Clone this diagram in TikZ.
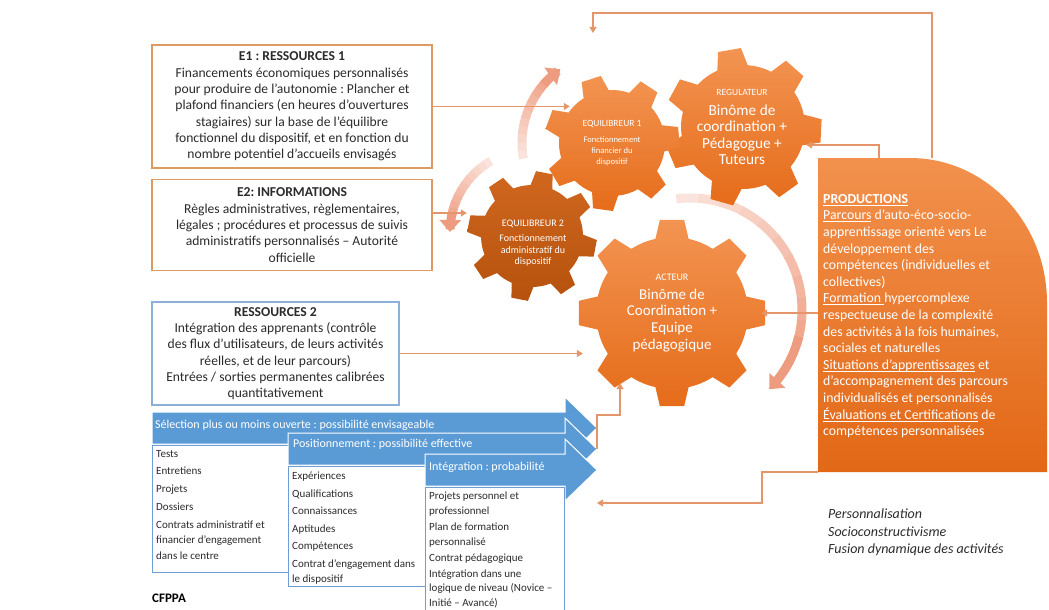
\documentclass[tikz,border=0pt]{standalone}
\usepackage{fontspec}
\setmainfont{Carlito}
\frenchspacing
\usetikzlibrary{arrows.meta,positioning,calc}
\definecolor{lineorange}{HTML}{E4956A}
\definecolor{boxorange}{HTML}{DD9A62}
\definecolor{boxblue}{HTML}{8DB0D8}
\definecolor{stepblue}{HTML}{5B9BD5}
\definecolor{listblue}{HTML}{6F9ED4}
\definecolor{geartop}{HTML}{F39452}
\definecolor{gearbot}{HTML}{E56C1A}
\definecolor{darktop}{HTML}{D0671F}
\definecolor{darkbot}{HTML}{B5520D}
\definecolor{prodtop}{HTML}{F2914D}
\definecolor{prodbot}{HTML}{E26816}
\definecolor{curvpink}{HTML}{EE9C80}
\definecolor{inkgrey}{HTML}{2B2B2B}

% underline at a fixed depth
\newsavebox\ulbox
\newcommand{\undl}[1]{\sbox\ulbox{#1}\rlap{\rule[-2.3pt]{\wd\ulbox}{0.7pt}}\usebox\ulbox}

% gear: center, teeth, root radius, tip radius, rotation, fill options
\newcommand{\drawgear}[6]{%
  \begin{scope}[shift={#1}]
    \shade[#6] ({#5-180/#2}:#3)
      \foreach \tk in {1,...,#2}{
        -- ({#5+(\tk-1.4)*360/#2}:#3) -- ({#5+(\tk-1.28)*360/#2}:#3)
        -- ({#5+(\tk-1.165)*360/#2}:#4) -- ({#5+(\tk-0.835)*360/#2}:#4)
        -- ({#5+(\tk-0.72)*360/#2}:#3) -- ({#5+(\tk-0.6)*360/#2}:#3)
        -- ({#5+(\tk-0.5)*360/#2}:#3)
      } -- cycle;
  \end{scope}}

% fading round arrow: center, radius, from, to
\newcommand{\fadearc}[4]{%
  \begin{scope}[shift={#1}]
    \foreach \k in {0,...,9}{
      \pgfmathsetmacro\arcA{#3+(#4-#3)*0.08*\k}
      \pgfmathsetmacro\arcB{#3+(#4-#3)*0.08*(\k+1.1)}
      \pgfmathsetmacro\arcC{28+60*\k/9}
      \draw[curvbody, curvpink!\arcC!white] plot[domain=\arcA:\arcB, samples=8] (\x:#2);
    }
    \pgfmathsetmacro\arcD{#3+(#4-#3)*0.78}
    \draw[curvbody, curvpink, -{Triangle[width=21pt,length=12pt]}]
      plot[domain=\arcD:#4, samples=8] (\x:#2);
  \end{scope}}

\begin{document}
\begin{tikzpicture}[x=1pt,y=-1pt,
  conn/.style={draw=lineorange, line width=1.1pt, -{Triangle[width=7pt,length=6pt]}},
  infobox/.style={draw=#1, line width=1.2pt, fill=white, align=center, text=inkgrey,
    inner sep=0pt, font=\fontsize{13.6}{16.3}\selectfont},
  gtext/.style={circle, inner sep=0pt, align=center, text=white},
  stepshape/.style={fill=stepblue, draw=white, line width=1pt},
  steplabel/.style={anchor=west, inner sep=0pt, text=white, font=\fontsize{12}{14}\selectfont},
  listbox/.style={draw=listblue, line width=1pt, fill=white, inner sep=0pt},
  listtext/.style={anchor=north west, inner sep=0pt, align=left, text=inkgrey},
  curvbody/.style={line width=9pt}]

\path[use as bounding box, clip] (0,0) rectangle (1049,610);

% round arrows behind the gears
\fadearc{(612,143)}{90}{170}{235}
\fadearc{(532,232)}{82}{240}{180}
\fadearc{(690,310)}{112}{263}{405}

% gears
\drawgear{(743,127)}{7}{62}{79}{260}{top color=geartop, bottom color=gearbot}
\drawgear{(612,143)}{7}{53}{68}{252}{top color=geartop, bottom color=gearbot}
\drawgear{(672,313)}{8}{76}{94}{270}{top color=geartop, bottom color=gearbot}
\drawgear{(532,236)}{8}{51}{65}{281}{top color=darktop, bottom color=darkbot}

\node[gtext, minimum size=84pt, font=\fontsize{8.5}{11}\selectfont] (eq1) at (612,143)
  {{\fontsize{9.5}{11}\selectfont EQUILIBREUR 1}\\[5pt]Fonctionnement\\financier du\\dispositif};
\node[gtext, minimum size=128pt, font=\fontsize{15.3}{16.5}\selectfont] (reg) at (742,127)
  {{\fontsize{9.5}{11}\selectfont REGULATEUR}\\[3pt]Binôme de\\coordination +\\Pédagogue +\\Tuteurs};
\node[gtext, minimum size=178pt, font=\fontsize{15}{16.8}\selectfont] (act) at (672,313)
  {{\fontsize{10}{12}\selectfont ACTEUR}\\[2pt]Binôme de\\Coordination +\\Equipe\\pédagogique};
\node[gtext, minimum size=132pt, font=\fontsize{10}{11.5}\selectfont] (eq2) at (533,243)
  {{\fontsize{10}{12}\selectfont EQUILIBREUR 2}\\[4pt]Fonctionnement\\administratif du\\dispositif};

% entry boxes
\node[infobox=boxorange, minimum width=280pt, minimum height=123pt] (e1) at (292,106.5)
  {\textbf{E1 : RESSOURCES 1}\\Financements économiques personnalisés\\pour produire de l’autonomie : Plancher et\\plafond financiers (en heures d’ouvertures\\stagiaires) sur la base de l’équilibre\\fonctionnel du dispositif, et en fonction du\\nombre potentiel d’accueils envisagés};
\node[infobox=boxorange, minimum width=280pt, minimum height=91pt] (e2) at (292,225)
  {\textbf{E2: INFORMATIONS}\\Règles administratives, règlementaires,\\légales ; procédures et processus de suivis\\administratifs personnalisés – Autorité\\officielle};
\node[infobox=boxblue, minimum width=247pt, minimum height=103pt] (res2) at (275.5,353.5)
  {\textbf{RESSOURCES 2}\\Intégration des apprenants (contrôle\\des flux d’utilisateurs, de leurs activités\\réelles, et de leur parcours)\\Entrées / sorties permanentes calibrées\\quantitativement};

% staggered steps
\foreach \i/\xl/\ym/\lw/\lh in {1/152/428/148/127, 2/288/449/148/120, 3/425/470/139/127}{
  \filldraw[stepshape] (\xl,\ym-16) -- (565,\ym-16) -- (565,\ym-31) -- (597,\ym)
    -- (565,\ym+31) -- (565,\ym+16) -- (\xl,\ym+16) -- cycle;
  \node[listbox, minimum width=\lw pt, minimum height=\lh pt, anchor=north west] (list\i) at (\xl,\ym+17) {};
}
\node[steplabel] (sel) at (155,425) {Sélection plus ou moins ouverte : possibilité envisageable};
\node[steplabel] (pos) at (293,444) {Positionnement : possibilité effective};
\node[steplabel] (integ) at (429,467) {Intégration : probabilité};

\node[listtext, font=\fontsize{11}{15.5}\selectfont] (list1txt) at (156,450)
  {Tests\\[2.2pt]Entretiens\\[2.2pt]Projets\\[2.2pt]Dossiers\\[2.2pt]Contrats administratif et\\financier d’engagement\\dans le centre};
\node[listtext, font=\fontsize{11}{15.5}\selectfont] (list2txt) at (292,472)
  {Expériences\\[2pt]Qualifications\\[2pt]Connaissances\\[2pt]Aptitudes\\[2pt]Compétences\\[2pt]Contrat d’engagement dans\\le dispositif};
\node[listtext, font=\fontsize{11}{14.7}\selectfont] (list3txt) at (429,492)
  {Projets personnel et\\professionnel\\[1.3pt]Plan de formation\\personnalisé\\[1.3pt]Contrat pédagogique\\[1.3pt]Intégration dans une\\logique de niveau (Novice –\\Initié – Avancé)};

% productions panel
\coordinate (prodNW) at (818,158);
\coordinate (prodSW) at (818,472);
\shade[top color=prodtop, bottom color=prodbot] (prodNW) -- (910,158)
  .. controls (986,158) and (1047,223) .. (1047,303) -- (1047,472) -- (prodSW) -- cycle;
\node[anchor=north west, inner sep=0pt, align=left, text=white, font=\fontsize{13.8}{16.6}\selectfont] (prod) at (823,194)
  {\textbf{\undl{PRODUCTIONS}}\\\undl{Parcours} d’auto-éco-socio-\\apprentissage orienté vers Le\\développement des\\compétences (individuelles et\\collectives)\\\undl{Formation }hypercomplexe\\respectueuse de la complexité\\des activités à la fois humaines,\\sociales et naturelles\\\undl{Situations d’apprentissages} et\\d’accompagnement des parcours\\individualisés et personnalisés\\\undl{Évaluations et Certifications} de\\compétences personnalisées};

% connectors
\coordinate (loopend) at (593,33);
\coordinate (backend) at (597,503);
\coordinate (postip) at (597,449);
\coordinate (actin) at (620,383);
\draw[conn] (e1.east) -- (e1.east -| eq1.west);
\draw[conn] ([yshift=12pt]e2.east) -- ([yshift=12pt]e2.east -| eq2.west);
\draw[conn] (res2.east) -- (res2.east -| act.west);
\draw[conn] (prodNW |- act.east) -- (act.east);
\draw[conn] ([xshift=61pt]prodNW) |- ([yshift=-18pt]reg.east);
\draw[conn] ([xshift=114pt]prodNW) -- ++(0,-145) -| (loopend);
\draw[conn] (prodSW) -- ++(-56,0) |- (backend);
\draw[conn] (postip) -- ++(0,-34) -| (actin);

\node[anchor=west, inner sep=0pt, font=\bfseries\fontsize{13}{15}\selectfont] (cfppa) at (152,598) {CFPPA};
\node[anchor=north west, inner sep=0pt, align=left, text=inkgrey, font=\itshape\fontsize{14}{17.5}\selectfont] (notes) at (828,509)
  {Personnalisation\\Socioconstructivisme\\Fusion dynamique des activités};
\end{tikzpicture}
\end{document}
